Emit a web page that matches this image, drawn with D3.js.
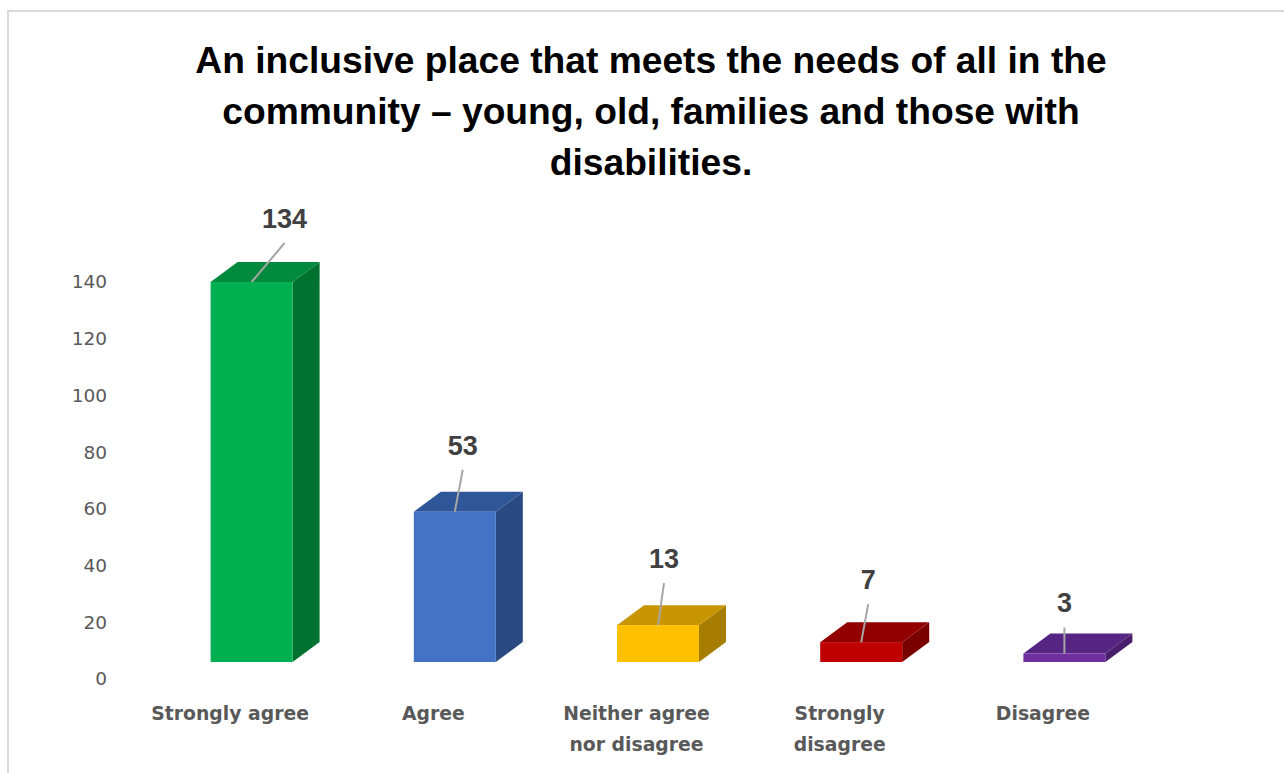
<!DOCTYPE html>
<html>
<head>
<meta charset="utf-8">
<script src="https://cdn.jsdelivr.net/npm/d3@7"></script>
<style>
  html, body { margin: 0; padding: 0; background: #ffffff; }
  svg { display: block; }
</style>
</head>
<body>
<svg id="chart" width="1284" height="773"></svg>
<script>
// ---- data ----
const categories = ["Strongly agree", "Agree", "Neither agree nor disagree", "Strongly disagree", "Disagree"];
const categoryLines = [["Strongly agree"], ["Agree"], ["Neither agree", "nor disagree"], ["Strongly", "disagree"], ["Disagree"]];
const values = [134, 53, 13, 7, 3];
const yTicks = [0, 20, 40, 60, 80, 100, 120, 140];
const titleLines = [
  "An inclusive place that meets the needs of all in the",
  "community \u2013 young, old, families and those with",
  "disabilities."
];

// ---- styles ----
const frontColors = ["#00b050", "#4472c4", "#ffc000", "#c00000", "#7030a0"];
const topColors   = ["#008a3e", "#30569a", "#c79600", "#920000", "#562482"];
const sideColors  = ["#00722f", "#2a4a82", "#a67d00", "#7a0000", "#481e6c"];
// per-bar label placement relative to front-top centre (dx, baseline dy)
const labelPlace = [[33, -54], [8, -57], [6, -57], [7, -53], [0, -41]];

const svg = d3.select("#chart");

// border
svg.append("rect")
  .attr("x", 8).attr("y", 11).attr("width", 1320).attr("height", 800)
  .attr("fill", "none").attr("stroke", "#d9d9d9").attr("stroke-width", 2);

// title
svg.append("g").selectAll("text").data(titleLines).join("text")
  .attr("x", 651)
  .attr("y", (d, i) => 73 + i * 51)
  .attr("text-anchor", "middle")
  .attr("font-family", "'Liberation Sans', Arial, sans-serif")
  .attr("font-weight", "bold")
  .attr("font-size", 37.2)
  .attr("fill", "#000000")
  .text(d => d);

// scales
const x = d3.scaleBand().domain(categories).range([128.5, 1144.5]).padding(0);
const y = d3.scaleLinear().domain([0, 140]).range([679, 282]);

const frontShift = 21.5;   // front face offset from floor band centre
const frontDrop = 17;      // front face is drawn lower than back wall
const barW = 82;
const depthX = 27, depthY = -20;

// y axis
const yAxis = d3.axisLeft(y).tickValues(yTicks).tickSize(0).tickPadding(3);
const ga = svg.append("g").attr("transform", "translate(110,0)").call(yAxis);
ga.select(".domain").remove();
ga.selectAll("text")
  .attr("font-family", "'DejaVu Sans', sans-serif")
  .attr("font-size", 18.5)
  .attr("fill", "#595959");

// bars
const bars = svg.append("g").selectAll("g").data(values).join("g");

bars.each(function(v, i) {
  const g = d3.select(this);
  const cx = x(categories[i]) + x.bandwidth() / 2 + frontShift;
  const x0 = cx - barW / 2, x1 = cx + barW / 2;
  const yb = y(0) - frontDrop;
  const yt = y(v) - frontDrop;
  // side face
  g.append("path")
    .attr("d", `M${x1},${yb} L${x1 + depthX},${yb + depthY} L${x1 + depthX},${yt + depthY} L${x1},${yt} Z`)
    .attr("fill", sideColors[i]);
  // top face
  g.append("path")
    .attr("d", `M${x0},${yt} L${x0 + depthX},${yt + depthY} L${x1 + depthX},${yt + depthY} L${x1},${yt} Z`)
    .attr("fill", topColors[i]);
  // front face
  g.append("rect")
    .attr("x", x0).attr("y", yt).attr("width", barW).attr("height", yb - yt)
    .attr("fill", frontColors[i]);
  // leader line + value label
  const lx = cx + labelPlace[i][0];
  const ly = yt + labelPlace[i][1];
  g.append("line")
    .attr("x1", lx).attr("y1", ly + 15).attr("x2", cx).attr("y2", yt)
    .attr("stroke", "#a6a6a6").attr("stroke-width", 2);
  g.append("text")
    .attr("x", lx).attr("y", ly)
    .attr("text-anchor", "middle")
    .attr("font-family", "'Liberation Sans', Arial, sans-serif")
    .attr("font-weight", "bold")
    .attr("font-size", 27)
    .attr("fill", "#404040")
    .text(v);
});

// category labels
const cl = svg.append("g").selectAll("text").data(categories).join("text")
  .attr("text-anchor", "middle")
  .attr("font-family", "'DejaVu Sans', sans-serif")
  .attr("font-weight", "bold")
  .attr("font-size", 18.8)
  .attr("fill", "#595959");
cl.each(function(c, i) {
  const t = d3.select(this);
  categoryLines[i].forEach((line, j) => {
    t.append("tspan")
      .attr("x", x(c) + x.bandwidth() / 2)
      .attr("y", 720 + j * 31)
      .text(line);
  });
});
</script>
</body>
</html>
